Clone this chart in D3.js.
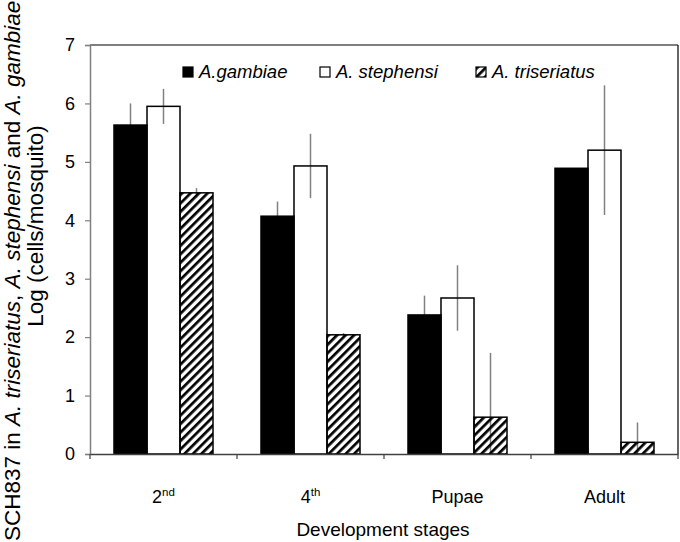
<!DOCTYPE html>
<html>
<head>
<meta charset="utf-8">
<script src="https://cdn.jsdelivr.net/npm/d3@7"></script>
<style>
  html, body { margin: 0; padding: 0; background: #fff; }
  svg { display: block; font-family: "Liberation Sans", Arial, sans-serif; }
</style>
</head>
<body>
<svg id="chart" width="680" height="542"></svg>
<script>
// ---- data ----
const categories = ["2nd", "4th", "Pupae", "Adult"];
const series = ["A.gambiae", "A. stephensi", "A. triseriatus"];
const gambiae = [5.63, 4.07, 2.38, 4.89];
const gambiaeErr = [0.37, 0.25, 0.33, 0.0];
const stephensi = [5.95, 4.93, 2.67, 5.20];
const stephensiErr = [0.30, 0.55, 0.56, 1.11];
const triseriatus = [4.47, 2.04, 0.63, 0.20];
const triseriatusErr = [0.08, 0.03, 1.10, 0.34];
const yTicks = [0, 1, 2, 3, 4, 5, 6, 7];

const values = [gambiae, stephensi, triseriatus];
const errors = [gambiaeErr, stephensiErr, triseriatusErr];

const svg = d3.select("#chart");
const mLeft = 90, mRight = 678, mTop = 45, mBottom = 454;

const x = d3.scaleBand().domain(categories).range([mLeft, mRight]).padding(0);
const xi = d3.scaleBand().domain(series).range([0, x.bandwidth()])
  .paddingInner(0).paddingOuter(0.727);
const y = d3.scaleLinear().domain([0, 7]).range([mBottom, mTop]);

// hatch pattern
const defs = svg.append("defs");
const pat = defs.append("pattern").attr("id", "hatch")
  .attr("patternUnits", "userSpaceOnUse").attr("width", 6).attr("height", 6)
  .attr("patternTransform", "rotate(45)");
pat.append("rect").attr("x", 0).attr("y", 0).attr("width", 2.7).attr("height", 6).attr("fill", "#000");

// frame top and right
svg.append("line").attr("x1", mLeft).attr("x2", mRight).attr("y1", mTop).attr("y2", mTop)
  .attr("stroke", "#000").attr("stroke-width", 1.2);
svg.append("line").attr("x1", mRight).attr("x2", mRight).attr("y1", mTop).attr("y2", mBottom)
  .attr("stroke", "#000").attr("stroke-width", 1.2);

// rows
const rows = [];
categories.forEach((c, ci) => series.forEach((s, si) => {
  rows.push({c, s, si, v: values[si][ci], e: errors[si][ci]});
}));

// error bars (behind bars)
svg.append("g").selectAll("line").data(rows.filter(d => d.e > 0)).join("line")
  .attr("x1", d => x(d.c) + xi(d.s) + xi.bandwidth() / 2)
  .attr("x2", d => x(d.c) + xi(d.s) + xi.bandwidth() / 2)
  .attr("y1", d => y(Math.max(0, d.v - d.e)))
  .attr("y2", d => y(d.v + d.e))
  .attr("stroke", "#808080").attr("stroke-width", 1.5);

const fills = ["#000", "none", "url(#hatch)"];
svg.append("g").selectAll("rect").data(rows).join("rect")
  .attr("x", d => x(d.c) + xi(d.s))
  .attr("width", xi.bandwidth())
  .attr("y", d => y(d.v))
  .attr("height", d => y(0) - y(d.v))
  .attr("fill", d => fills[d.si])
  .attr("stroke", "#000").attr("stroke-width", 1.5);

// y axis
const ya = svg.append("g").attr("transform", `translate(${mLeft},0)`)
  .call(d3.axisLeft(y).tickValues(yTicks).tickFormat(d3.format("d")).tickSize(5).tickPadding(10));
ya.select(".domain").attr("stroke", "#808080").attr("stroke-width", 1.5);
ya.selectAll(".tick line").attr("stroke", "#808080").attr("stroke-width", 1.2);
ya.selectAll(".tick text").attr("font-size", 18).attr("fill", "#000")
  .attr("font-family", "Liberation Sans, Arial, sans-serif");

// x axis
const xa = svg.append("g").attr("transform", `translate(0,${mBottom})`)
  .call(d3.axisBottom(x).tickSize(0).tickFormat(""));
xa.select(".domain").attr("stroke", "#404040").attr("stroke-width", 1.5);
xa.selectAll(".tick").remove();
// boundary ticks
const bounds = categories.map(c => x(c)).concat([mRight]);
svg.append("g").selectAll("line").data(bounds).join("line")
  .attr("x1", d => d).attr("x2", d => d).attr("y1", mBottom).attr("y2", mBottom + 5)
  .attr("stroke", "#404040").attr("stroke-width", 1.2);

// category labels with superscript
const labelParts = {"2nd": ["2", "nd"], "4th": ["4", "th"], "Pupae": ["Pupae", ""], "Adult": ["Adult", ""]};
categories.forEach(c => {
  const t = svg.append("text").attr("x", x(c) + x.bandwidth() / 2).attr("y", 503)
    .attr("text-anchor", "middle").attr("font-size", 18).attr("fill", "#000");
  const [a, b] = labelParts[c];
  t.append("tspan").text(a);
  if (b) t.append("tspan").attr("font-size", 11.5).attr("dy", -7).text(b);
});

// x title
svg.append("text").attr("x", (mLeft + mRight) / 2 - 1).attr("y", 536)
  .attr("text-anchor", "middle").attr("font-size", 19).text("Development stages");

// y titles
const yt1 = svg.append("text").attr("transform", "translate(20,541) rotate(-90)")
  .attr("text-anchor", "start").attr("font-size", 22.5);
[["SCH837 in ", false], ["A. triseriatus", true], [", ", false], ["A. stephensi", true],
 [" and ", false], ["A. gambiae", true]].forEach(([t, it]) => {
  yt1.append("tspan").attr("font-style", it ? "italic" : "normal").text(t);
});
svg.append("text").attr("transform", "translate(43,226) rotate(-90)")
  .attr("text-anchor", "middle").attr("font-size", 22.5).text("Log (cells/mosquito)");

// legend
const legendX = [183, 320, 476];
const legendFill = ["#000", "#fff", "url(#hatch)"];
const lg = svg.append("g");
series.forEach((s, i) => {
  lg.append("rect").attr("x", legendX[i]).attr("y", 67).attr("width", 10).attr("height", 10)
    .attr("fill", legendFill[i]).attr("stroke", "#000").attr("stroke-width", 1.2);
  lg.append("text").attr("x", legendX[i] + 16).attr("y", 78).attr("font-size", 18.5)
    .attr("font-style", "italic").text(s);
});
</script>
</body>
</html>
